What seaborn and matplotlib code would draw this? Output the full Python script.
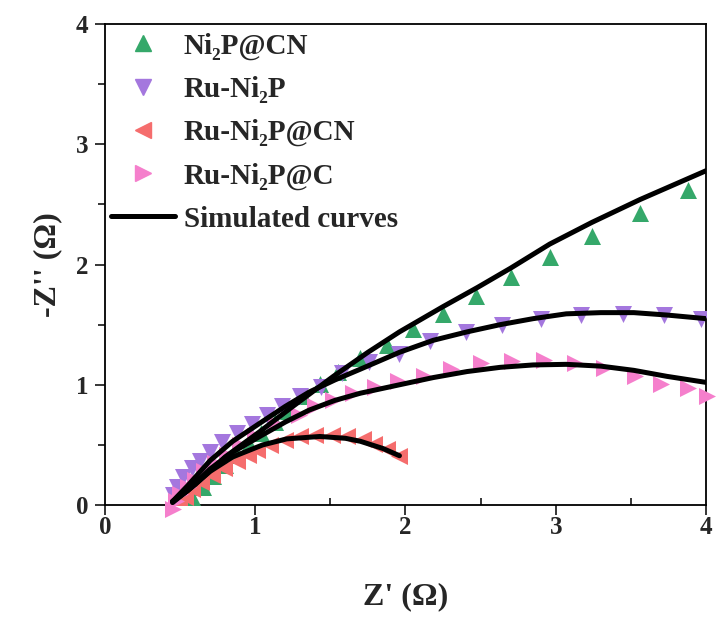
import matplotlib
matplotlib.use("Agg")
import matplotlib.pyplot as plt
import seaborn as sns
import pandas as pd
from matplotlib.ticker import MultipleLocator
from matplotlib.lines import Line2D

sns.set_style("white")
plt.rcParams['font.family'] = ['Liberation Serif', 'DejaVu Serif']
plt.rcParams['font.weight'] = 'bold'

labels = ["Ni₂P@CN", "Ru-Ni₂P", "Ru-Ni₂P@CN", "Ru-Ni₂P@C"]
fit_label = "Simulated curves"

# Measured data
ni2p_cn_x = [0.52, 0.58, 0.65, 0.72, 0.80, 0.88, 0.96, 1.04, 1.13, 1.22, 1.32, 1.43,
             1.55, 1.70, 1.88, 2.05, 2.25, 2.47, 2.70, 2.96, 3.24, 3.56, 3.88]
ni2p_cn_y = [0.00, 0.07, 0.15, 0.24, 0.33, 0.42, 0.51, 0.60, 0.69, 0.78, 0.91, 1.01,
             1.11, 1.22, 1.33, 1.46, 1.59, 1.74, 1.90, 2.06, 2.24, 2.43, 2.62]

ru_ni2p_x = [0.45, 0.48, 0.52, 0.58, 0.63, 0.70, 0.78, 0.88, 0.98, 1.08, 1.18, 1.30,
             1.44, 1.58, 1.76, 1.96, 2.16, 2.40, 2.64, 2.90, 3.17, 3.45, 3.72, 3.97]
ru_ni2p_y = [0.08, 0.15, 0.23, 0.31, 0.37, 0.44, 0.52, 0.60, 0.67, 0.75, 0.82, 0.91,
             0.98, 1.10, 1.19, 1.26, 1.36, 1.44, 1.50, 1.55, 1.58, 1.59, 1.58, 1.55]

ru_ni2p_cn_x = [0.46, 0.49, 0.53, 0.58, 0.64, 0.71, 0.79, 0.88, 0.95, 1.01, 1.10, 1.20,
                1.30, 1.40, 1.51, 1.61, 1.72, 1.79, 1.88, 1.96]
ru_ni2p_cn_y = [-0.03, 0.02, 0.07, 0.13, 0.19, 0.25, 0.31, 0.37, 0.42, 0.46, 0.50, 0.54,
                0.57, 0.58, 0.58, 0.57, 0.55, 0.51, 0.47, 0.41]

ru_ni2p_c_x = [0.45, 0.47, 0.50, 0.55, 0.60, 0.66, 0.73, 0.81, 0.90, 1.00, 1.14, 1.29,
               1.40, 1.52, 1.65, 1.80, 1.95, 2.12, 2.30, 2.50, 2.71, 2.92, 3.13, 3.32,
               3.53, 3.70, 3.88, 4.01]
ru_ni2p_c_y = [-0.03, 0.03, 0.09, 0.15, 0.21, 0.28, 0.35, 0.42, 0.50, 0.57, 0.67, 0.75,
               0.82, 0.87, 0.93, 0.98, 1.03, 1.07, 1.13, 1.18, 1.20, 1.21, 1.18, 1.14,
               1.07, 1.01, 0.97, 0.91]

# Simulated (fitted) curves
fit1_x = [0.45, 0.60, 0.80, 1.03, 1.25, 1.52, 1.75, 1.96, 2.25, 2.48, 2.70, 2.96, 3.24, 3.56, 4.00]
fit1_y = [0.02, 0.17, 0.40, 0.61, 0.82, 1.07, 1.27, 1.44, 1.65, 1.81, 1.97, 2.17, 2.35, 2.54, 2.78]
fit2_x = [0.45, 0.55, 0.70, 0.85, 1.03, 1.20, 1.36, 1.53, 1.70, 1.96, 2.185, 2.41, 2.63,
          2.85, 3.07, 3.30, 3.52, 3.74, 4.00]
fit2_y = [0.03, 0.16, 0.37, 0.53, 0.68, 0.82, 0.94, 1.04, 1.13, 1.27, 1.37, 1.44, 1.50,
          1.55, 1.59, 1.60, 1.60, 1.58, 1.55]
fit3_x = [0.45, 0.55, 0.70, 0.85, 1.03, 1.20, 1.36, 1.53, 1.70, 1.96, 2.185, 2.41, 2.63,
          2.85, 3.07, 3.30, 3.52, 3.74, 4.00]
fit3_y = [0.03, 0.12, 0.30, 0.44, 0.57, 0.69, 0.79, 0.87, 0.93, 1.00, 1.06, 1.11, 1.145,
          1.165, 1.17, 1.155, 1.12, 1.07, 1.02]
fit4_x = [0.45, 0.55, 0.70, 0.85, 1.05, 1.21, 1.43, 1.60, 1.70, 1.85, 1.96]
fit4_y = [0.03, 0.12, 0.28, 0.40, 0.50, 0.55, 0.57, 0.555, 0.53, 0.47, 0.41]

colors = ['#35A86A', '#A477DE', '#F56D6D', '#F57FCC']
markers = ['^', 'v', '<', '>']

fig = plt.figure(figsize=(7.16, 6.17), dpi=100)
ax = fig.add_axes([0.1466, 0.1815, 0.8394, 0.7795])

series = [(ni2p_cn_x, ni2p_cn_y), (ru_ni2p_x, ru_ni2p_y),
          (ru_ni2p_cn_x, ru_ni2p_cn_y), (ru_ni2p_c_x, ru_ni2p_c_y)]
for (xs, ys), c, m, lab in zip(series, colors, markers, labels):
    df = pd.DataFrame({'x': xs, 'y': ys})
    sns.scatterplot(data=df, x='x', y='y', ax=ax, marker=m, color=c, s=150,
                    linewidth=0, zorder=3, clip_on=(lab != labels[3]))

for fx, fy in [(fit1_x, fit1_y), (fit2_x, fit2_y), (fit3_x, fit3_y), (fit4_x, fit4_y)]:
    df = pd.DataFrame({'x': fx, 'y': fy})
    sns.lineplot(data=df, x='x', y='y', ax=ax, sort=False, estimator=None,
                 color='black', linewidth=3.6, zorder=4)

ax.set_xlim(0, 4)
ax.set_ylim(0, 4)
ax.xaxis.set_major_locator(MultipleLocator(1))
ax.yaxis.set_major_locator(MultipleLocator(1))
ax.xaxis.set_minor_locator(MultipleLocator(0.5))
ax.yaxis.set_minor_locator(MultipleLocator(0.5))
ax.tick_params(axis='x', which='major', direction='out', length=7, width=1.3,
               labelsize=18, pad=1, bottom=True)
ax.tick_params(axis='x', which='minor', direction='in', length=5, width=1.3, bottom=True)
ax.tick_params(axis='y', which='major', direction='out', length=7, width=1.3,
               labelsize=18, pad=5, left=True)
ax.tick_params(axis='y', which='minor', direction='out', length=5, width=1.3, left=True)
for lab in ax.get_xticklabels() + ax.get_yticklabels():
    lab.set_fontweight('bold')
for sp in ax.spines.values():
    sp.set_linewidth(1.3)
    sp.set_color('black')

ax.set_xlabel("Z' (Ω)", fontsize=23, fontweight='bold', labelpad=31)
ax.set_ylabel("-Z'' (Ω)", fontsize=23, fontweight='bold', labelpad=10)

handles = [Line2D([], [], linestyle='none', marker=m, color=c, markersize=12)
           for m, c in zip(markers, colors)]
handles.append(Line2D([], [], color='black', linewidth=3.6))
leg = ax.legend(handles, labels + [fit_label], loc='upper left',
                bbox_to_anchor=(-0.024, 1.025), frameon=False,
                prop={'size': 21, 'weight': 'bold'}, handlelength=2.2,
                handletextpad=0.3, labelspacing=0.55, borderaxespad=0.3)

fig.savefig("out.png", dpi=100)
